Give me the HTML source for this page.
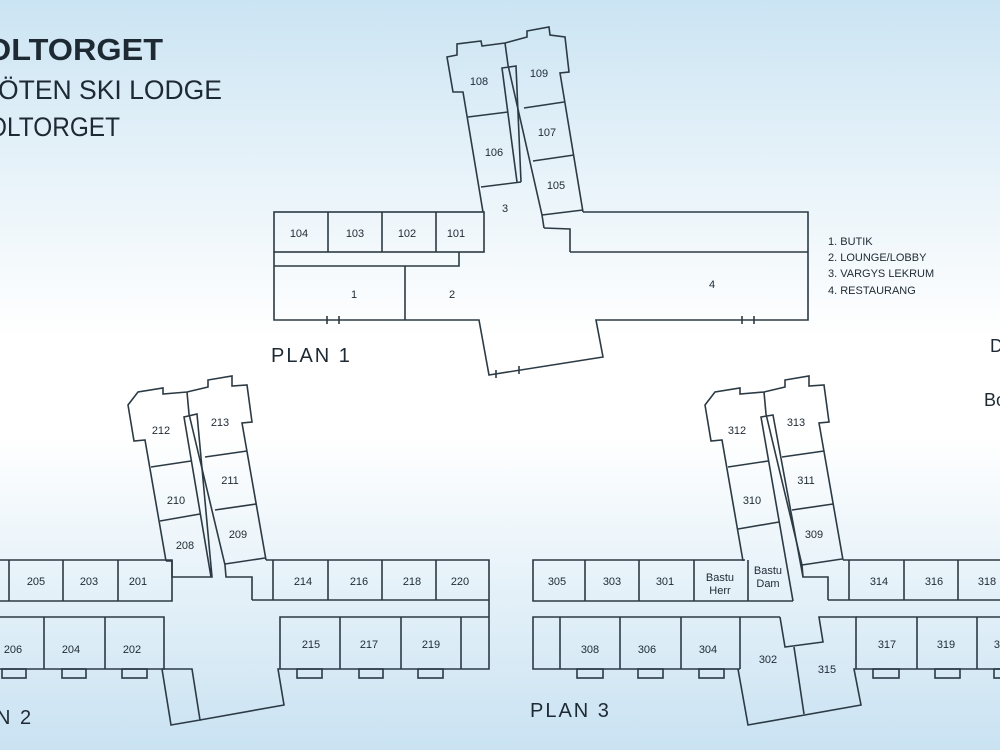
<!DOCTYPE html>
<html><head><meta charset="utf-8"><style>
html,body{margin:0;padding:0;width:1000px;height:750px;overflow:hidden}
body{background:linear-gradient(180deg,#cbe4f3 0%,#e6f2f9 22%,#ffffff 45%,#ffffff 58%,#e3f0f8 80%,#c9e2f2 100%)}
svg{position:absolute;left:0;top:0}
text{font-family:"Liberation Sans",sans-serif;fill:#1e2a33}
.r{font-size:11px;text-anchor:middle}
</style></head><body>
<svg width="1000" height="750" viewBox="0 0 1000 750">
<g fill="none" stroke="#2c3a44" stroke-width="1.6" stroke-linejoin="miter">
<!-- PLAN 1 -->
<rect x="274" y="212" width="210" height="40"/>
<line x1="328" y1="212" x2="328" y2="252"/><line x1="382" y1="212" x2="382" y2="252"/><line x1="436" y1="212" x2="436" y2="252"/>
<polyline points="274,252 274,320 479,320 489,375 603,357 596,320 808,320 808,212 583,212"/>
<polyline points="274,266 459,266 459,252"/>
<line x1="405" y1="266" x2="405" y2="320"/>
<polyline points="570,252 808,252"/>
<polyline points="544,228 570,229 570,252"/>
<line x1="327" y1="316" x2="327" y2="324"/><line x1="339" y1="316" x2="339" y2="324"/>
<line x1="742" y1="316" x2="742" y2="324"/><line x1="754" y1="316" x2="754" y2="324"/>
<line x1="496" y1="370" x2="496" y2="378"/><line x1="519" y1="366" x2="519" y2="374"/>
<polyline points="483,212 463,92 453,92 447,57 457,55 457,44 481,41 482,46 505,43 527,37 527,31 549,27 550,35 565,37 569,72 560,73 583,212"/>
<polyline points="505,43 508,65 542,215 544,228"/>
<line x1="468" y1="117" x2="508" y2="112"/>
<line x1="481" y1="187" x2="521" y2="182"/>
<polyline points="517,182 502,68 516,66 521,182"/>
<line x1="524" y1="108" x2="564" y2="102"/>
<line x1="533" y1="161" x2="574" y2="155"/>
<line x1="542" y1="215" x2="583" y2="210"/>

<!-- PLAN 2 -->
<polyline points="166,561 145,440 134,441 128,405 138,392 163,388 163,394 187,392 208,387 208,380 232,376 232,386 247,385 252,422 242,423 266,560"/>
<polyline points="187,392 189,414 225,565 226,577 252,577 252,600"/>
<polyline points="166,561 172,561 172,577 212,577 197,414 184,417 211,577"/>
<line x1="151" y1="467" x2="191" y2="461"/>
<line x1="160" y1="521" x2="200" y2="514"/>
<line x1="205" y1="457" x2="247" y2="451"/>
<line x1="215" y1="510" x2="256" y2="504"/>
<line x1="225" y1="564" x2="265" y2="558"/>
<polyline points="-2,560 172,560 172,601 -2,601"/>
<line x1="9" y1="560" x2="9" y2="601"/><line x1="63" y1="560" x2="63" y2="601"/><line x1="118" y1="560" x2="118" y2="601"/>
<polyline points="-2,617 164,617 164,669 -2,669"/>
<line x1="44" y1="617" x2="44" y2="669"/><line x1="105" y1="617" x2="105" y2="669"/>
<rect x="2" y="669" width="24" height="9"/><rect x="62" y="669" width="24" height="9"/><rect x="122" y="669" width="25" height="9"/>
<polyline points="162,669 192,669 200,720 171,725 162,669"/>
<polyline points="200,720 284,705 278,669 489,669 489,560 266,560"/>
<line x1="252" y1="600" x2="489" y2="600"/>
<line x1="273" y1="560" x2="273" y2="600"/><line x1="328" y1="560" x2="328" y2="600"/><line x1="382" y1="560" x2="382" y2="600"/><line x1="436" y1="560" x2="436" y2="600"/>
<polyline points="280,669 280,617 489,617"/>
<line x1="340" y1="617" x2="340" y2="669"/><line x1="401" y1="617" x2="401" y2="669"/><line x1="461" y1="617" x2="461" y2="669"/>
<rect x="297" y="669" width="25" height="9"/><rect x="359" y="669" width="24" height="9"/><rect x="418" y="669" width="25" height="9"/>

<!-- PLAN 3 -->
<polyline points="743,561 722,440 711,441 705,405 715,392 740,388 740,394 764,392 785,387 785,380 809,376 809,386 824,385 829,422 819,423 843,560"/>
<polyline points="764,392 766,414 802,565 803,577 828,577 828,600"/>
<polyline points="793,601 761,417 773,415 803,577"/>
<line x1="728" y1="467" x2="768" y2="461"/>
<line x1="738" y1="529" x2="779" y2="522"/>
<line x1="782" y1="457" x2="824" y2="451"/>
<line x1="792" y1="510" x2="833" y2="504"/>
<line x1="802" y1="565" x2="842" y2="559"/>
<polyline points="745,560 533,560 533,601 793,601"/>
<line x1="585" y1="560" x2="585" y2="601"/><line x1="639" y1="560" x2="639" y2="601"/><line x1="694" y1="560" x2="694" y2="601"/><line x1="748" y1="560" x2="748" y2="601"/>
<polyline points="843,560 1002,560"/>
<line x1="828" y1="600" x2="1002" y2="600"/>
<line x1="849" y1="560" x2="849" y2="600"/><line x1="904" y1="560" x2="904" y2="600"/><line x1="958" y1="560" x2="958" y2="600"/>
<polyline points="780,617 533,617 533,669 740,669"/>
<line x1="560" y1="617" x2="560" y2="669"/><line x1="620" y1="617" x2="620" y2="669"/><line x1="681" y1="617" x2="681" y2="669"/><line x1="740" y1="617" x2="740" y2="669"/>
<rect x="577" y="669" width="26" height="9"/><rect x="638" y="669" width="25" height="9"/><rect x="699" y="669" width="25" height="9"/>
<polyline points="780,617 785,647 823,642 819,617 856,617 856,669"/>
<polyline points="738,669 748,725 861,705 854,669 1002,669"/>
<line x1="794" y1="647" x2="804" y2="714"/>
<polyline points="856,617 1002,617"/>
<line x1="917" y1="617" x2="917" y2="669"/><line x1="977" y1="617" x2="977" y2="669"/>
<rect x="873" y="669" width="26" height="9"/><rect x="935" y="669" width="25" height="9"/><rect x="994" y="669" width="12" height="9"/>
</g>

<!-- titles -->
<text x="-14" y="60" textLength="177" lengthAdjust="spacingAndGlyphs" style="font-size:31px;font-weight:bold">OLTORGET</text>
<text x="-2" y="99" textLength="224" lengthAdjust="spacingAndGlyphs" style="font-size:27px">ÖTEN SKI LODGE</text>
<text x="-12" y="136" textLength="132" lengthAdjust="spacingAndGlyphs" style="font-size:27px">OLTORGET</text>
<text x="990" y="352" style="font-size:18px">D</text>
<text x="984" y="406" style="font-size:18px">Bo</text>

<g style="font-size:11px">
<text x="828" y="245">1. BUTIK</text>
<text x="828" y="261">2. LOUNGE/LOBBY</text>
<text x="828" y="277">3. VARGYS LEKRUM</text>
<text x="828" y="294">4. RESTAURANG</text>
</g>
<g style="font-size:20px;letter-spacing:2px">
<text x="271" y="362">PLAN 1</text>
<text x="-4" y="724">N 2</text>
<text x="530" y="717">PLAN 3</text>
</g>

<!-- room labels -->
<g class="r">
<text class="r" x="299" y="237">104</text><text class="r" x="355" y="237">103</text><text class="r" x="407" y="237">102</text><text class="r" x="456" y="237">101</text>
<text class="r" x="479" y="85">108</text><text class="r" x="539" y="77">109</text><text class="r" x="494" y="156">106</text><text class="r" x="547" y="136">107</text><text class="r" x="556" y="189">105</text>
<text class="r" x="505" y="212">3</text><text class="r" x="354" y="298">1</text><text class="r" x="452" y="298">2</text><text class="r" x="712" y="288">4</text>

<text class="r" x="161" y="434">212</text><text class="r" x="220" y="426">213</text><text class="r" x="176" y="504">210</text><text class="r" x="230" y="484">211</text><text class="r" x="185" y="549">208</text><text class="r" x="238" y="538">209</text>
<text class="r" x="36" y="585">205</text><text class="r" x="89" y="585">203</text><text class="r" x="138" y="585">201</text>
<text class="r" x="13" y="653">206</text><text class="r" x="71" y="653">204</text><text class="r" x="132" y="653">202</text>
<text class="r" x="303" y="585">214</text><text class="r" x="359" y="585">216</text><text class="r" x="412" y="585">218</text><text class="r" x="460" y="585">220</text>
<text class="r" x="311" y="648">215</text><text class="r" x="369" y="648">217</text><text class="r" x="431" y="648">219</text>

<text class="r" x="737" y="434">312</text><text class="r" x="796" y="426">313</text><text class="r" x="752" y="504">310</text><text class="r" x="806" y="484">311</text><text class="r" x="814" y="538">309</text>
<text class="r" x="557" y="585">305</text><text class="r" x="612" y="585">303</text><text class="r" x="665" y="585">301</text>
<text class="r" x="720" y="581">Bastu</text><text class="r" x="720" y="594">Herr</text>
<text class="r" x="768" y="574">Bastu</text><text class="r" x="768" y="587">Dam</text>
<text class="r" x="590" y="653">308</text><text class="r" x="647" y="653">306</text><text class="r" x="708" y="653">304</text>
<text class="r" x="768" y="663">302</text><text class="r" x="827" y="673">315</text>
<text class="r" x="879" y="585">314</text><text class="r" x="934" y="585">316</text><text class="r" x="987" y="585">318</text>
<text class="r" x="887" y="648">317</text><text class="r" x="946" y="648">319</text><text class="r" x="1003" y="648">321</text>
</g>
</svg>
</body></html>
